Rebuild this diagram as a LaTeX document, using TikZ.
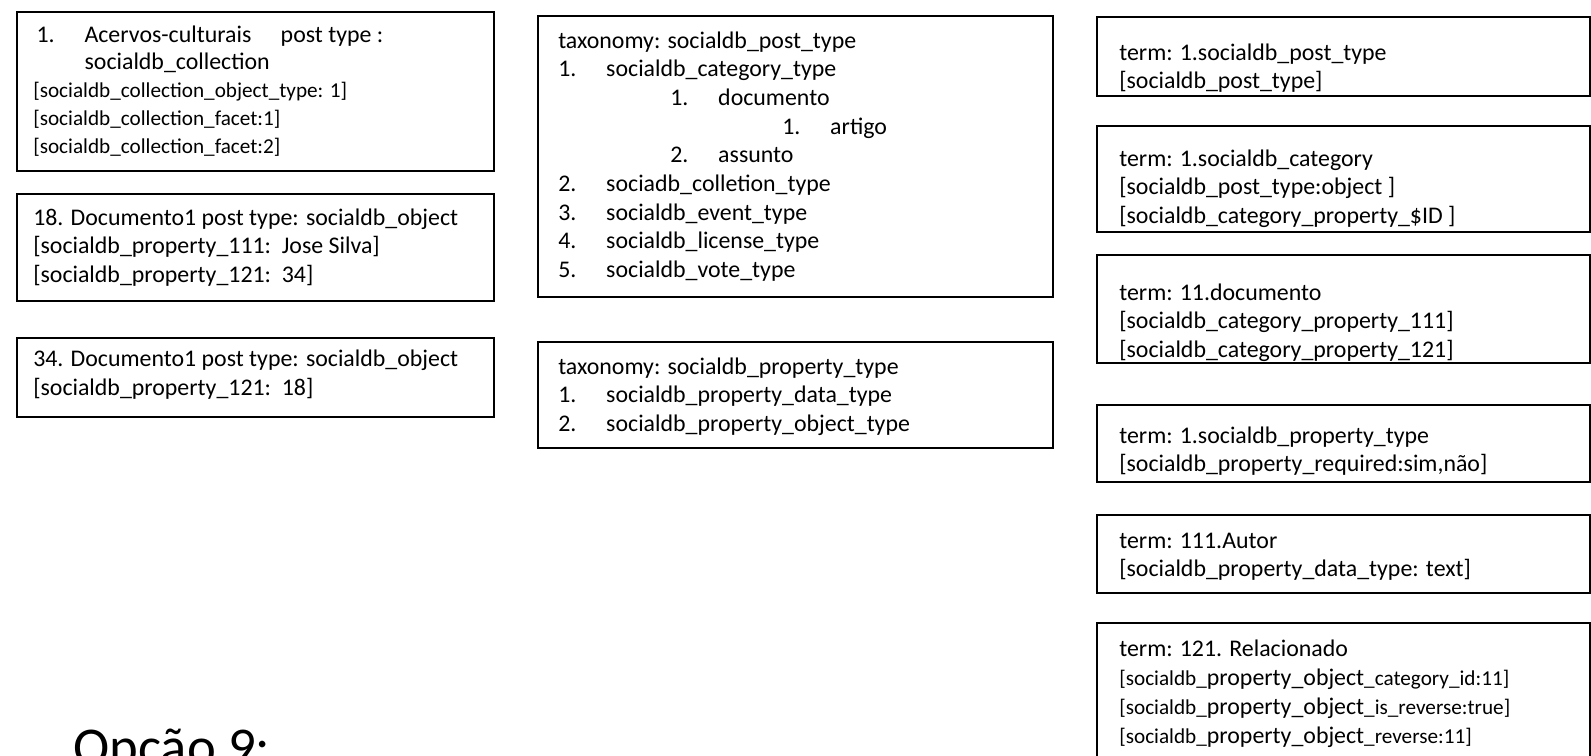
\documentclass[tikz,border=0pt]{standalone}
\usepackage{fontspec}
\setmainfont{Carlito}
\usetikzlibrary{positioning}

\newcommand\normtxt{\fontsize{17.9}{21.5}\selectfont}
\newcommand\smtxt{\fontsize{15.9}{20.8}\selectfont}
\newcommand\fst{\rule{0pt}{15pt}}
\newcommand\sq[1]{[#1]}
\newcommand\lvl[3]{\hspace*{#1}\makebox[36pt][l]{#2}#3}

\begin{document}
\begin{tikzpicture}[x=0.75pt, y=-0.75pt,
    box/.style={draw=black, line width=1.3pt},
    txt/.style={anchor=north west, inner sep=0pt, align=left, font=\normtxt}]
    \useasboundingbox (0,0) rectangle (1591,756);

    % Left column: objects (text nodes sit 20 units above their first baseline)
    \draw[box] (17,12.3) rectangle (494,170.7);
    \node[txt, font=\fontsize{17.9}{20.8}\selectfont] (acervos) at (33,22)
        {\fst\lvl{2.5pt}{1.}{Acervos-culturais\hspace{22pt}post type :}\\
         \lvl{2.5pt}{}{socialdb\_collection}\\
         \smtxt\sq{socialdb\_collection\_object\_type: 1}\\
         \smtxt\sq{socialdb\_collection\_facet:1}\\
         \smtxt\sq{socialdb\_collection\_facet:2}};

    \draw[box] (17,194) rectangle (494,300.7);
    \node[txt] (doc18) at (33,205)
        {\fst 18. Documento1 post type: socialdb\_object\\
         \sq{socialdb\_property\_111:\ \ Jose Silva}\\
         \sq{socialdb\_property\_121:\ \ 34}};

    \draw[box] (17,338) rectangle (494,417);
    \node[txt] (doc34) at (33,346.7)
        {\fst 34. Documento1 post type: socialdb\_object\\
         \sq{socialdb\_property\_121:\ \ 18}};

    % Middle column: taxonomies
    \draw[box] (538,15.7) rectangle (1053,297);
    \node[txt] (taxPost) at (558,28)
        {\fst taxonomy: socialdb\_post\_type\\
         \lvl{0pt}{1.}{socialdb\_category\_type}\\
         \lvl{84pt}{1.}{documento}\\
         \lvl{168pt}{1.}{artigo}\\
         \lvl{84pt}{2.}{assunto}\\
         \lvl{0pt}{2.}{sociadb\_colletion\_type}\\
         \lvl{0pt}{3.}{socialdb\_event\_type}\\
         \lvl{0pt}{4.}{socialdb\_license\_type}\\
         \lvl{0pt}{5.}{socialdb\_vote\_type}};

    \draw[box] (538,341.7) rectangle (1053,448);
    \node[txt] (taxProp) at (558,354)
        {\fst taxonomy: socialdb\_property\_type\\
         \lvl{0pt}{1.}{socialdb\_property\_data\_type}\\
         \lvl{0pt}{2.}{socialdb\_property\_object\_type}};

    % Right column: terms
    \draw[box] (1097,16.7) rectangle (1590,95.7);
    \node[txt] (termPost) at (1119,40)
        {\fst term: 1.socialdb\_post\_type\\
         \sq{socialdb\_post\_type}};

    \draw[box] (1097,126) rectangle (1590,232);
    \node[txt] (termCat) at (1119,146)
        {\fst term: 1.socialdb\_category\\
         \sq{socialdb\_post\_type:object }\\
         \sq{socialdb\_category\_property\_\$ID }};

    \draw[box] (1097,255) rectangle (1590,362.7);
    \node[txt] (termDoc) at (1119,280)
        {\fst term: 11.documento\\
         \sq{socialdb\_category\_property\_111}\\
         \sq{socialdb\_category\_property\_121}};

    \draw[box] (1097,405) rectangle (1590,481.7);
    \node[txt] (termProp) at (1119,423)
        {\fst term: 1.socialdb\_property\_type\\
         \sq{socialdb\_property\_required:sim,não}};

    \draw[box] (1097,515) rectangle (1590,593);
    \node[txt] (termAutor) at (1119,528)
        {\fst term: 111.Autor\\
         \sq{socialdb\_property\_data\_type: text}};

    \draw[box] (1097,623.3) rectangle (1590,790);
    \node[txt, font=\fontsize{17.9}{21.8}\selectfont] (termRel) at (1119,636)
        {\fst term: 121. Relacionado\\
         \smtxt\sq{socialdb\_{\normtxt property\_object}\_category\_id:11}\\
         \smtxt\sq{socialdb\_{\normtxt property\_object}\_is\_reverse:true}\\
         \smtxt\sq{socialdb\_{\normtxt property\_object}\_reverse:11}};

    % Title, cut by the page edge
    \node[txt, anchor=base west, font=\fontsize{41}{49}\selectfont] (opcao) at (73,765) {Opção 9:};
\end{tikzpicture}
\end{document}
